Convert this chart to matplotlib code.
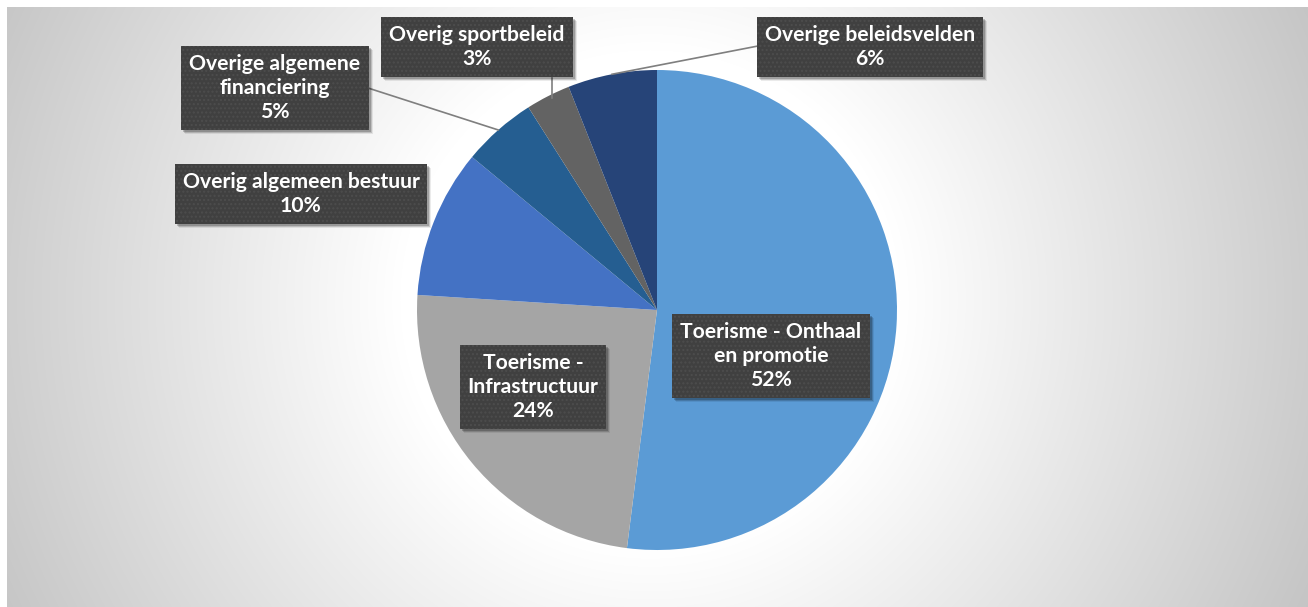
import numpy as np
import matplotlib
matplotlib.use("Agg")
import matplotlib.pyplot as plt
from matplotlib.patches import Rectangle

# ---- data ----
categories = [
    "Toerisme - Onthaal\nen promotie",
    "Toerisme -\nInfrastructuur",
    "Overig algemeen bestuur",
    "Overige algemene\nfinanciering",
    "Overig sportbeleid",
    "Overige beleidsvelden",
]
values = [52, 24, 10, 5, 3, 6]
colors = ["#5B9BD5", "#A5A5A5", "#4472C4", "#255E91", "#636363", "#264478"]

# label box centres (figure pixels, from top-left) - layout
label_pos = [(771, 356), (533, 387), (301, 194), (275, 88), (477, 47), (870, 47)]
leader = [None, None, None, (368, 88), (552, 78), (758, 46)]

W, H = 1308, 607
fig = plt.figure(figsize=(W / 100, H / 100), dpi=100)
fig.patch.set_facecolor("white")

# background with radial gradient
bg = fig.add_axes([7 / W, 0, (W - 7) / W, (H - 7) / H])
yy, xx = np.mgrid[7:H, 7:W]
d = np.hypot(xx - 650, yy - 300)
v = np.clip(255 - (d - 250) / 465 * 57, 190, 255) / 255.0
img = np.dstack([v, v, v])
bg.imshow(img, extent=[0, 1, 0, 1], aspect="auto", origin="upper")
bg.set_axis_off()

# pie axes
cx, cy, r = 657, 310, 240
ax = fig.add_axes([(cx - r) / W, (H - cy - r) / H, 2 * r / W, 2 * r / H])
wedges, _ = ax.pie(values, colors=colors, startangle=90, counterclock=False,
                   radius=1.0, wedgeprops=dict(linewidth=0))
ax.set_xlim(-1, 1)
ax.set_ylim(-1, 1)
ax.set_aspect("equal")
ax.set_axis_off()

total = sum(values)


def fig_px(px, py):
    return px / W, 1 - py / H

# leader lines
for i, w in enumerate(wedges):
    if leader[i] is None:
        continue
    ang = np.deg2rad((w.theta1 + w.theta2) / 2)
    ex, ey = cx + r * np.cos(ang), cy - r * np.sin(ang)
    lx, ly = leader[i]
    if i == 4:
        ex = lx
        ey = cy - np.sqrt(r ** 2 - (lx - cx) ** 2) + 4
    fig.add_artist(plt.Line2D([lx / W, ex / W], [1 - ly / H, 1 - ey / H],
                              color="#7F7F7F", lw=1.2, transform=fig.transFigure))

# labels
texts = []
for i, name in enumerate(categories):
    pct = values[i] / total * 100
    txt = f"{name}\n{pct:.0f}%"
    px, py = label_pos[i]
    x, y = fig_px(px, py)
    t = fig.text(x, y, txt, ha="center", va="center", fontsize=15.2,
                 fontfamily="Lato", fontweight="bold", color="white", linespacing=1.25,
                 zorder=5,
                 bbox=dict(boxstyle="square,pad=0.38", facecolor="#404040",
                           edgecolor="#4d4d4d", hatch="....", linewidth=0))
    texts.append(t)

fig.canvas.draw()
renderer = fig.canvas.get_renderer()
for t in texts:
    bb = t.get_bbox_patch().get_window_extent(renderer)
    for k, a in ((4, 0.08), (3, 0.15), (2, 0.2)):
        fig.add_artist(Rectangle(((bb.x0 + k) / W, (bb.y0 - k) / H),
                                 bb.width / W, bb.height / H,
                                 transform=fig.transFigure, facecolor="black",
                                 alpha=a, edgecolor="none", zorder=4))

fig.savefig("out.png", dpi=100)
